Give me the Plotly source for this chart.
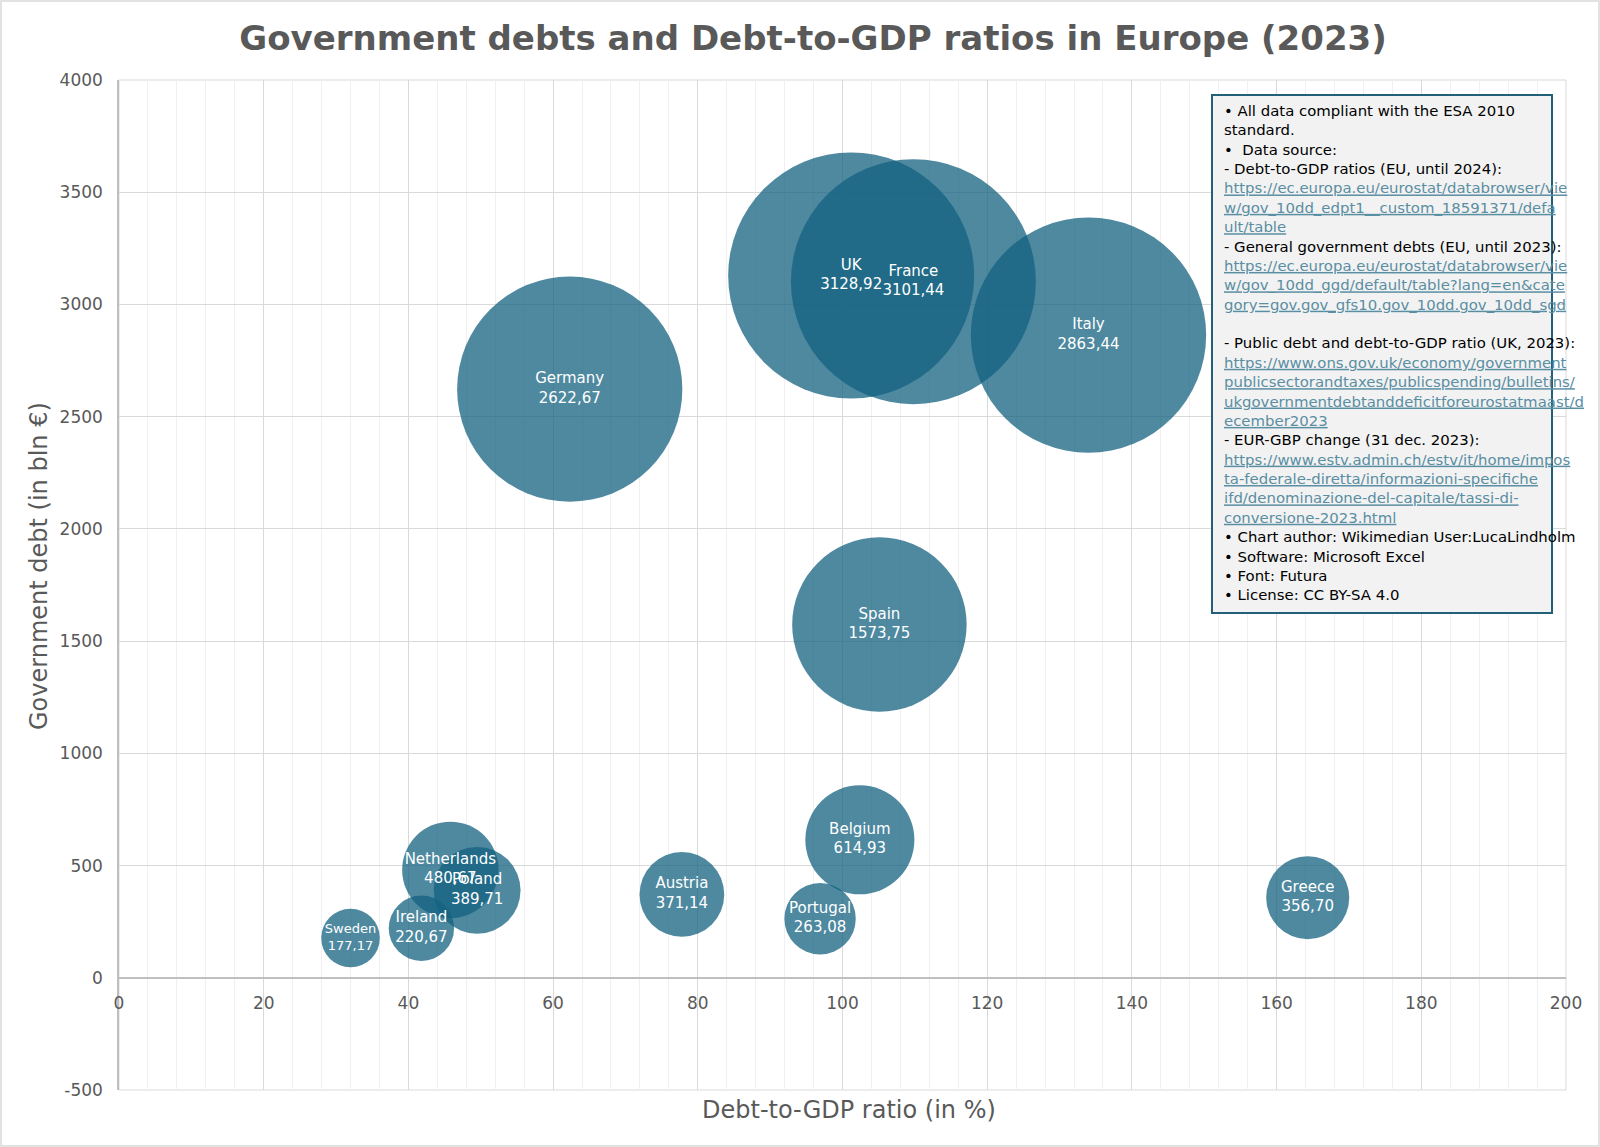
import plotly.graph_objects as go

# ---------------- data ----------------
countries = ["Sweden", "Ireland", "Netherlands", "Poland", "Germany", "Austria",
             "Portugal", "Belgium", "UK", "Spain", "France", "Italy", "Greece"]
debt_to_gdp = [32.0, 41.8, 45.8, 49.5, 62.3, 77.8,
               96.9, 102.4, 101.2, 105.1, 109.8, 134.0, 164.3]
gov_debt = [177.17, 220.67, 480.67, 389.71, 2622.67, 371.14,
            263.08, 614.93, 3128.92, 1573.75, 3101.44, 2863.44, 356.70]
label_sizes = [13, 15, 15, 15, 15, 15, 15, 15, 15, 15, 15, 15, 15]

x_ticks = [0, 20, 40, 60, 80, 100, 120, 140, 160, 180, 200]
y_ticks = [-500, 0, 500, 1000, 1500, 2000, 2500, 3000, 3500, 4000]

info_lines = [
    "• All data compliant with the ESA 2010",
    "standard.",
    "•  Data source:",
    "- Debt-to-GDP ratios (EU, until 2024):",
    "L:https://ec.europa.eu/eurostat/databrowser/vie",
    "L:w/gov_10dd_edpt1__custom_18591371/defa",
    "L:ult/table",
    "- General government debts (EU, until 2023):",
    "L:https://ec.europa.eu/eurostat/databrowser/vie",
    "L:w/gov_10dd_ggd/default/table?lang=en&cate",
    "L:gory=gov.gov_gfs10.gov_10dd.gov_10dd_sgd",
    " ",
    "- Public debt and debt-to-GDP ratio (UK, 2023):",
    "L:https://www.ons.gov.uk/economy/government",
    "L:publicsectorandtaxes/publicspending/bulletins/",
    "L:ukgovernmentdebtanddeficitforeurostatmaast/d",
    "L:ecember2023",
    "- EUR-GBP change (31 dec. 2023):",
    "L:https://www.estv.admin.ch/estv/it/home/impos",
    "L:ta-federale-diretta/informazioni-specifiche",
    "L:ifd/denominazione-del-capitale/tassi-di-",
    "L:conversione-2023.html",
    "• Chart author: Wikimedian User:LucaLindholm",
    "• Software: Microsoft Excel",
    "• Font: Futura",
    "• License: CC BY-SA 4.0",
]

# ---------------- layout geometry ----------------
W, H = 1600, 1147
ML, MR, MT, MB = 119, 34, 80, 57
PW, PH = W - ML - MR, H - MT - MB


def px_x(p):
    return (p - ML) / PW


def px_y(p):
    return (H - MB - p) / PH


GREY = "#595959"
FONT = "DejaVu Sans"

labels = [f"{c}<br>{v:.2f}".replace(".", ",") for c, v in zip(countries, gov_debt)]
max_diam = 246
sizeref = 2.0 * max(gov_debt) / (max_diam ** 2)

fig = go.Figure()
fig.add_trace(go.Scatter(
    x=debt_to_gdp, y=gov_debt, mode="markers+text",
    text=labels, textposition="middle center",
    textfont=dict(family=FONT, size=label_sizes, color="white"),
    marker=dict(size=gov_debt, sizemode="area", sizeref=sizeref,
                color="rgb(19,98,128)", opacity=0.75, line=dict(width=0)),
    hoverinfo="skip", showlegend=False, cliponaxis=False,
))

ymin, ymax = y_ticks[0], y_ticks[-1]

fig.update_layout(
    width=W, height=H,
    margin=dict(l=ML, r=MR, t=MT, b=MB, autoexpand=False),
    paper_bgcolor="white", plot_bgcolor="white",
    font=dict(family=FONT, color=GREY),
    title=dict(text="<b>Government debts and Debt-to-GDP ratios in Europe (2023)</b>",
               x=813 / W, xref="container", xanchor="center",
               y=1 - 38 / H, yref="container", yanchor="middle",
               font=dict(family=FONT, size=34, color=GREY)),
    xaxis=dict(range=[x_ticks[0], x_ticks[-1]], tickvals=x_ticks,
               ticktext=[str(v) for v in x_ticks],
               anchor="free", position=(0 - ymin) / (ymax - ymin),
               showgrid=True, gridcolor="#d9d9d9", gridwidth=1,
               minor=dict(dtick=4, showgrid=True, gridcolor="#f0f0f0", gridwidth=1),
               zeroline=False, showline=False, ticks="",
               ticklabelstandoff=13,
               tickfont=dict(family=FONT, size=17, color=GREY)),
    yaxis=dict(range=[ymin, ymax], tickvals=y_ticks,
               ticktext=[str(v) for v in y_ticks],
               showgrid=True, gridcolor="#d9d9d9", gridwidth=1,
               zeroline=True, zerolinecolor="#bfbfbf", zerolinewidth=1.5,
               showline=True, linecolor="#bfbfbf", linewidth=1.5, ticks="",
               ticklabelstandoff=11,
               tickfont=dict(family=FONT, size=17, color=GREY)),
)

# plot-area border (edge gridlines), outer frame and info box
fig.add_shape(type="rect", xref="paper", yref="paper",
              x0=0, x1=1, y0=0, y1=1,
              line=dict(color="#d9d9d9", width=1), fillcolor="rgba(0,0,0,0)",
              layer="below")
fig.add_shape(type="rect", xref="paper", yref="paper",
              x0=px_x(1), x1=px_x(1599), y0=px_y(1146), y1=px_y(1),
              line=dict(color="#d9d9d9", width=1.5), fillcolor="rgba(0,0,0,0)",
              layer="below")
fig.add_shape(type="rect", xref="paper", yref="paper",
              x0=px_x(1212), x1=px_x(1552), y0=px_y(613), y1=px_y(95),
              line=dict(color="#22607a", width=2), fillcolor="#f2f2f2",
              layer="above")


def fmt(line):
    if line.startswith("L:"):
        return ('<span style="color:#5a8ea3;text-decoration:underline">'
                + line[2:] + '</span>')
    return line


fig.add_annotation(
    xref="paper", yref="paper", x=px_x(1222), y=px_y(100),
    xanchor="left", yanchor="top", align="left", showarrow=False,
    text="<br>".join(fmt(l) for l in info_lines),
    font=dict(family=FONT, size=14.9, color="black"),
)

# axis titles
fig.add_annotation(
    xref="paper", yref="paper", x=px_x(849), y=px_y(1110),
    xanchor="center", yanchor="middle", showarrow=False,
    text="Debt-to-GDP ratio (in %)",
    font=dict(family=FONT, size=24, color=GREY),
)
fig.add_annotation(
    xref="paper", yref="paper", x=px_x(39), y=px_y(566),
    xanchor="center", yanchor="middle", showarrow=False, textangle=-90,
    text="Government debt (in bln €)",
    font=dict(family=FONT, size=24, color=GREY),
)

fig.write_html("out.html",
               config={"displayModeBar": False},
               post_script="document.body.style.margin='0';"
                           "document.body.style.overflow='hidden';")
